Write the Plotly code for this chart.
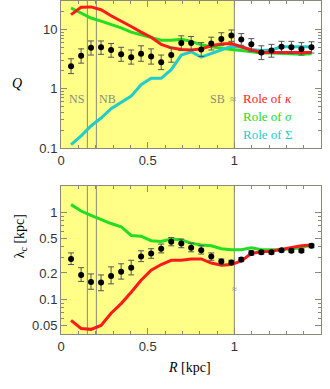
import math
import plotly.graph_objects as go

# radii of the measured annuli [kpc]
R = [0.058, 0.116, 0.173, 0.231, 0.289, 0.347, 0.405, 0.462, 0.520, 0.578,
     0.636, 0.694, 0.751, 0.809, 0.867, 0.925, 0.983, 1.040, 1.098, 1.156,
     1.214, 1.272, 1.329, 1.387, 1.445]

# top panel: Q with error bar ends
Q = [2.4, 3.6, 4.9, 5.0, 4.5, 3.8, 3.4, 3.9, 3.5, 2.8, 3.7, 5.9, 5.9, 4.6,
     5.8, 6.9, 7.9, 6.8, 5.6, 4.1, 4.4, 5.1, 5.0, 4.7, 5.0]
Q_hi = [3.2, 4.7, 6.4, 6.4, 5.8, 5.0, 4.5, 5.3, 4.7, 3.7, 4.9, 7.8, 7.6, 6.0,
        7.4, 8.8, 9.8, 8.5, 7.0, 5.3, 5.6, 6.3, 6.3, 6.0, 6.2]
Q_lo = [1.8, 2.7, 3.7, 3.8, 3.4, 2.9, 2.6, 2.9, 2.6, 2.1, 2.8, 4.4, 4.5, 3.5,
        4.5, 5.4, 6.3, 5.4, 4.3, 3.1, 3.4, 4.0, 3.9, 3.7, 4.0]
Q_kappa = [17.8, 23.6, 24.0, 21.5, 17.0, 14.0, 11.2, 9.0, 7.4, 5.6, 4.9, 4.6,
           4.5, 4.7, 5.3, 5.7, 5.8, 5.1, 4.5, 4.1, 4.1, 4.2, 4.2, 4.1, 4.1]
Q_sigma = [23.0, 18.7, 15.6, 13.8, 12.1, 10.6, 9.0, 8.1, 7.2, 6.6, 6.6, 6.8,
           6.3, 5.5, 5.1, 4.8, 4.6, 4.4, 4.2, 4.0, 4.0, 3.9, 3.9, 3.8, 3.9]
Q_Sigma = [0.114, 0.16, 0.235, 0.32, 0.46, 0.58, 0.75, 1.17, 1.5, 1.5, 2.1,
           3.7, 4.2, 3.4, 3.9, 4.5, 5.2, 5.0, 4.6, 4.4, 4.5, 5.1, 5.1, 5.0, 5.1]

# bottom panel: lambda_c [kpc]
lam = [0.29, 0.19, 0.158, 0.155, 0.185, 0.206, 0.23, 0.31, 0.335, 0.38, 0.456,
       0.437, 0.39, 0.365, 0.31, 0.27, 0.264, 0.286, 0.34, 0.345, 0.345, 0.365,
       0.36, 0.36, 0.41]
lam_hi = [0.34, 0.23, 0.195, 0.19, 0.235, 0.255, 0.28, 0.36, 0.38, 0.43, 0.51,
          0.49, 0.44, 0.41, 0.34, 0.29, 0.28, 0.30, 0.36, 0.36, 0.36, 0.38,
          0.375, 0.375, 0.43]
lam_lo = [0.25, 0.16, 0.13, 0.125, 0.15, 0.17, 0.19, 0.27, 0.295, 0.34, 0.41,
          0.39, 0.35, 0.33, 0.28, 0.25, 0.25, 0.27, 0.32, 0.33, 0.33, 0.35,
          0.345, 0.345, 0.39]
lam_kappa = [0.057, 0.046, 0.045, 0.050, 0.069, 0.089, 0.12, 0.165, 0.215, 0.25,
             0.28, 0.28, 0.29, 0.29, 0.26, 0.246, 0.25, 0.275, 0.335, 0.35,
             0.355, 0.375, 0.39, 0.41, 0.42]
lam_sigma = [1.22, 1.03, 0.92, 0.82, 0.74, 0.68, 0.54, 0.53, 0.47, 0.46, 0.49,
             0.48, 0.44, 0.42, 0.41, 0.38, 0.37, 0.37, 0.39, 0.37, 0.37, 0.37,
             0.38, 0.39, 0.42]

# region boundaries
R_NS, R_NB, R_SB = 0.152, 0.204, 1.0

RED, GREEN, CYAN, GREY = "#ff1a1a", "#22dd22", "#22cccc", "#8a8a7a"
YELLOW = "#ffff88"
SERIF = "Liberation Serif"
SANS = "Liberation Sans"

fig = go.Figure()


def add_line(y, color, ax):
    fig.add_trace(go.Scatter(x=R, y=y, mode="lines", xaxis=ax[0], yaxis=ax[1],
                             line=dict(color=color, width=3), showlegend=False))


def add_points(y, hi, lo, ax):
    fig.add_trace(go.Scatter(
        x=R, y=y, mode="markers", xaxis=ax[0], yaxis=ax[1], showlegend=False,
        marker=dict(color="black", size=6),
        error_y=dict(type="data", symmetric=False,
                     array=[h - v for h, v in zip(hi, y)],
                     arrayminus=[v - l for v, l in zip(y, lo)],
                     color="#555", thickness=1, width=3)))


top = ("x2", "y2")
bot = ("x", "y")
add_line(Q_sigma, GREEN, top)
add_line(Q_Sigma, CYAN, top)
add_line(Q_kappa, RED, top)
add_points(Q, Q_hi, Q_lo, top)
add_line(lam_sigma, GREEN, bot)
add_line(lam_kappa, RED, bot)
add_points(lam, lam_hi, lam_lo, bot)

shapes = []
for xr, yd in [("x", "y domain"), ("x2", "y2 domain")]:
    shapes.append(dict(type="rect", xref=xr, yref=yd, x0=0, x1=R_SB, y0=0, y1=1,
                       fillcolor=YELLOW, line=dict(width=0), layer="below"))
    for xv in [R_NS, R_NB, R_SB]:
        shapes.append(dict(type="line", xref=xr, yref=yd, x0=xv, x1=xv, y0=0, y1=1,
                           line=dict(color=GREY, width=1), layer="below"))
fig.update_layout(shapes=shapes)

ann = []


def txt(x, y, s, color, anchor, size=13, ax="x2", ay="y2"):
    ann.append(dict(x=x, y=y, xref=ax, yref=ay, text=s, showarrow=False,
                    xanchor=anchor, yanchor="middle",
                    font=dict(family=SERIF, size=size, color=color)))


txt(R_NS - 0.005, math.log10(0.68), "NS", GREY, "right", 12)
txt(R_NB + 0.003, math.log10(0.68), "NB", GREY, "left", 12)
txt(0.955, math.log10(0.68), "SB", GREY, "right", 12)
txt(0.99, math.log10(0.68), "≈", GREY, "center", 11)
txt(1.04, math.log10(0.68), "Role of <i>κ</i>", RED, "left")
txt(1.04, math.log10(0.34), "Role of <i>σ</i>", GREEN, "left")
txt(1.04, math.log10(0.17), "Role of Σ", CYAN, "left")
txt(1.0, math.log10(0.13), "≈", GREY, "center", 9, "x", "y")

ann.append(dict(x=-0.196, y=0.78, xref="paper", yref="paper", text="<i>Q</i>",
                showarrow=False, font=dict(family=SERIF, size=14, color="black")))
ann.append(dict(x=-0.196, y=0.22, xref="paper", yref="paper",
                text="λ<sub>c</sub> [kpc]", textangle=-90, showarrow=False,
                font=dict(family=SERIF, size=14, color="black")))
ann.append(dict(x=0.496, y=-0.13, xref="paper", yref="paper",
                text="<i>R</i> [kpc]", showarrow=False,
                font=dict(family=SERIF, size=14, color="black")))
fig.update_layout(annotations=ann)

axis_style = dict(ticks="inside", ticklen=6, tickcolor=GREY, showline=True,
                  linecolor=GREY, mirror="ticks", showgrid=False, zeroline=False,
                  automargin=False,
                  tickfont=dict(family=SANS, size=13, color="#333"))
xcommon = dict(range=[0, 1.5], tickvals=[0, 0.5, 1, 1.5],
               ticktext=["0", "0.5", "1", "1.5"],
               minor=dict(dtick=0.1, ticks="inside", ticklen=3, tickcolor=GREY),
               **axis_style)
ylog_minor = dict(dtick="D1", ticks="inside", ticklen=3, tickcolor=GREY)

fig.update_layout(
    width=330, height=389,
    margin=dict(l=61, r=9, t=1, b=55),
    paper_bgcolor="white", plot_bgcolor="white",
    xaxis=dict(anchor="y", **xcommon),
    xaxis2=dict(anchor="y2", matches="x", **xcommon),
    yaxis=dict(type="log", domain=[0, 0.4444], range=[-1.40, 0.30],
               tickvals=[0.05, 0.1, 0.2, 0.5, 1, 2],
               ticktext=["0.05", "0.1", "0.2", "0.5", "1", "2"],
               minor=ylog_minor, **axis_style),
    yaxis2=dict(type="log", domain=[0.5586, 1], range=[-1, 1.48],
                tickvals=[0.1, 1, 10], ticktext=["0.1", "1", "10"],
                minor=ylog_minor, **axis_style),
)

# page body has a default 8px margin; drop it so the figure fills the window
fig.write_html("out.html", config={"displayModeBar": False},
               post_script="document.body.style.margin='0';")
